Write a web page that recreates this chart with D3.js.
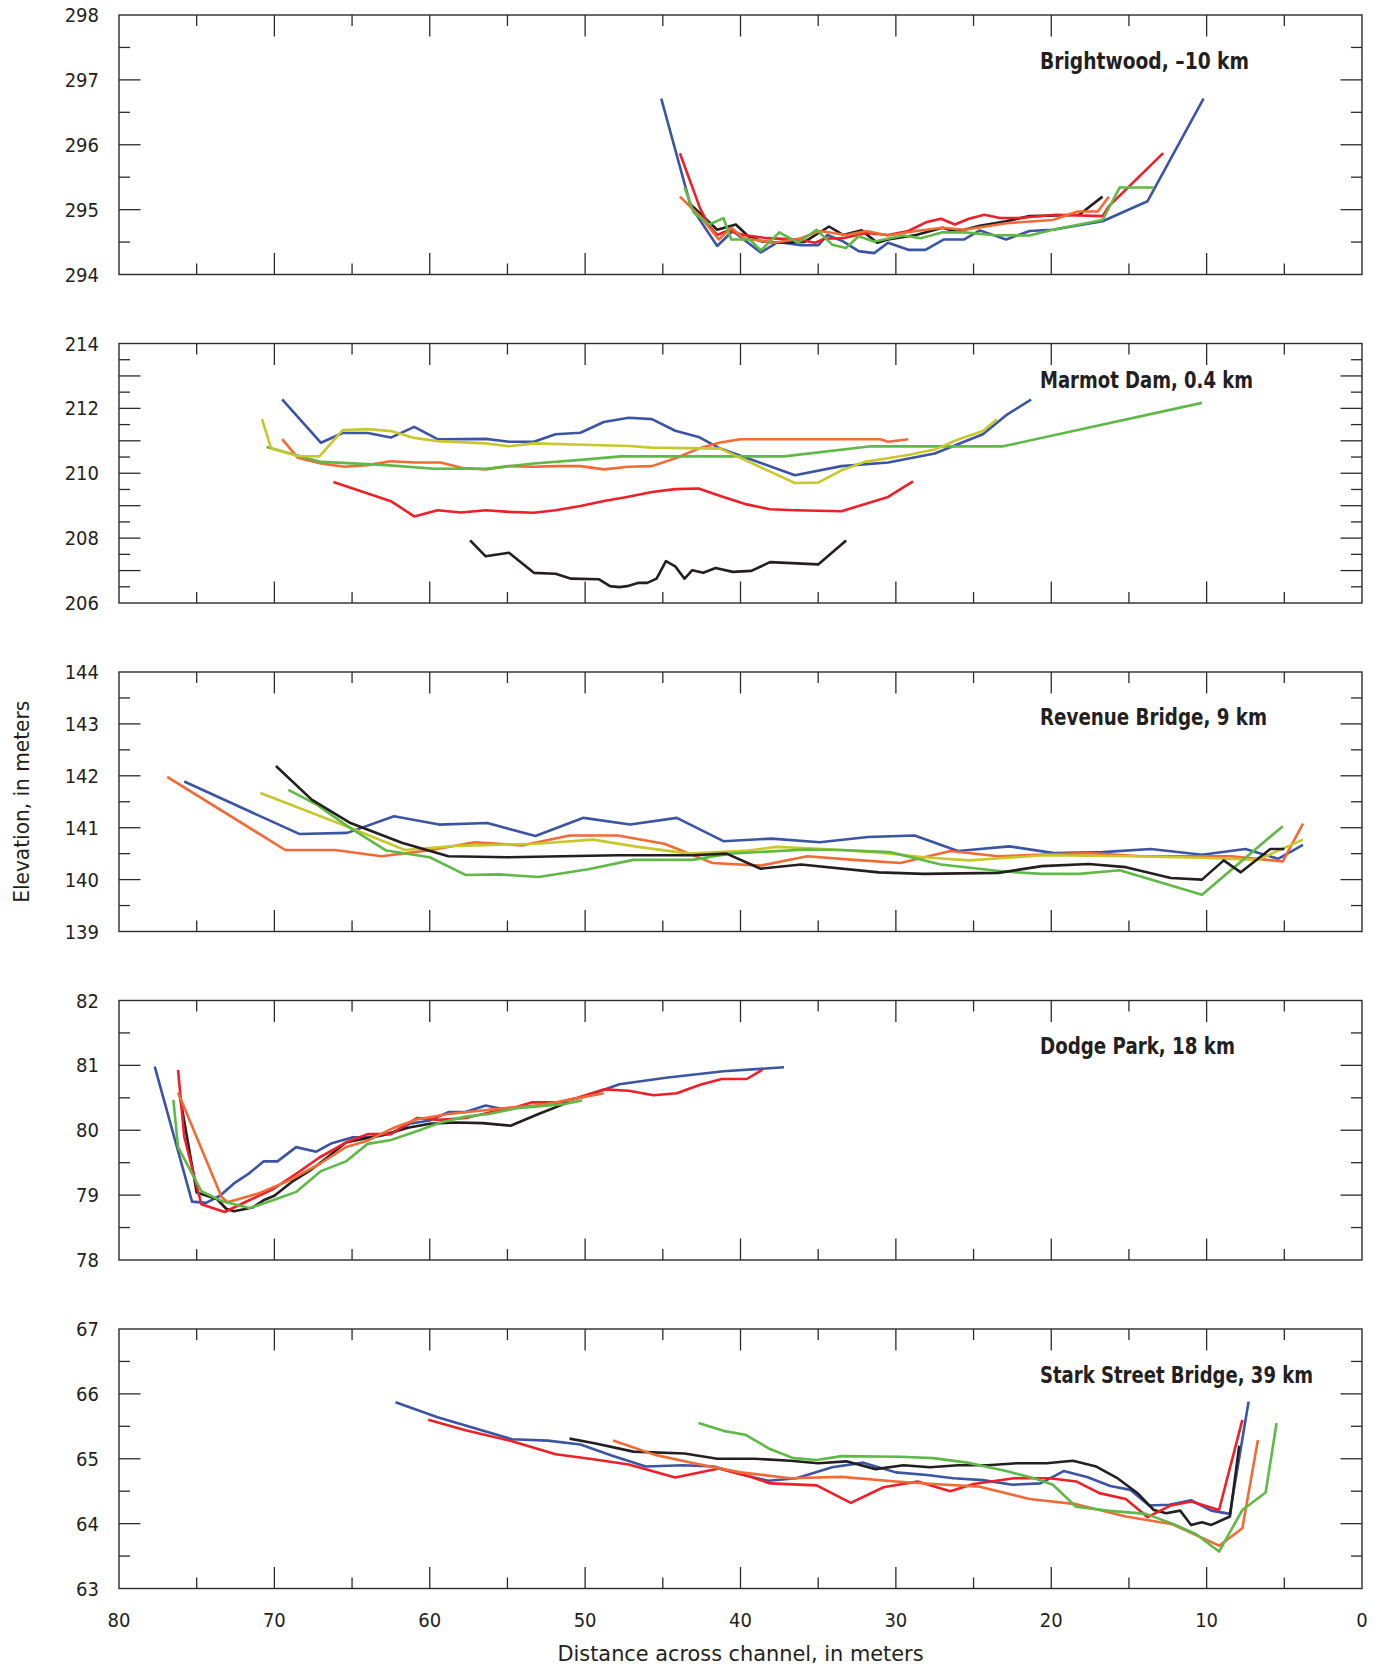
<!DOCTYPE html>
<html>
<head>
<meta charset="utf-8">
<script src="https://cdn.jsdelivr.net/npm/d3@7"></script>
<style>
  html, body { margin: 0; padding: 0; background: #fff; }
  svg { display: block; }
</style>
</head>
<body>
<svg id="chart" width="1382" height="1669"></svg>
<script>
// Cross-section profiles: [distance across channel (m), elevation (m)]

// ---- Brightwood, -10 km ----
const brightwoodBlue = [[45.1,296.71],[43.2,295.05],[41.5,294.44],[40.5,294.67],[38.7,294.34],[37.6,294.5],[36.1,294.45],[35.0,294.45],[34.4,294.61],[33.4,294.51],[32.4,294.36],[31.4,294.33],[30.5,294.49],[29.2,294.38],[28.1,294.38],[26.9,294.54],[25.6,294.54],[24.6,294.68],[22.9,294.54],[21.4,294.67],[19.9,294.69],[16.7,294.82],[13.8,295.13],[10.2,296.71]];
const brightwoodRed = [[43.9,295.87],[42.6,295.02],[42.0,294.74],[41.5,294.61],[40.8,294.68],[39.8,294.61],[38.3,294.56],[36.3,294.54],[35.2,294.49],[34.6,294.55],[33.4,294.56],[31.9,294.64],[30.5,294.61],[29.2,294.67],[28.0,294.81],[27.1,294.86],[26.2,294.77],[25.3,294.86],[24.3,294.92],[23.3,294.87],[22.1,294.87],[19.7,294.92],[16.7,294.9],[16.3,295.05],[12.8,295.87]];
const brightwoodBlack = [[43.3,295.1],[41.5,294.69],[40.3,294.77],[39.5,294.59],[38.6,294.51],[37.6,294.49],[35.9,294.5],[34.3,294.74],[33.4,294.61],[32.2,294.68],[31.2,294.49],[30.5,294.54],[28.7,294.61],[27.0,294.72],[26.1,294.66],[24.6,294.75],[22.9,294.82],[21.4,294.9],[19.7,294.91],[18.2,294.92],[16.7,295.2]];
const brightwoodOrange = [[43.9,295.2],[42.6,294.9],[41.4,294.54],[40.6,294.72],[39.8,294.56],[37.8,294.49],[36.1,294.56],[34.9,294.67],[33.2,294.61],[31.9,294.67],[30.5,294.6],[28.7,294.67],[27.0,294.72],[25.6,294.69],[22.9,294.79],[19.9,294.84],[18.3,294.97],[17.0,294.97],[16.3,295.2]];
const brightwoodGreen = [[43.6,295.34],[43.0,294.95],[42.0,294.77],[41.1,294.87],[40.6,294.54],[39.4,294.54],[38.7,294.37],[37.5,294.65],[36.3,294.49],[35.1,294.69],[34.1,294.46],[33.2,294.41],[32.4,294.59],[31.4,294.51],[29.5,294.6],[28.4,294.56],[27.0,294.65],[25.6,294.65],[23.8,294.61],[21.4,294.6],[19.9,294.69],[16.7,294.84],[15.6,295.34],[13.4,295.34]];

// ---- Marmot Dam, 0.4 km ----
const marmotBlue = [[69.5,212.28],[67.0,210.94],[65.6,211.24],[64.0,211.24],[62.5,211.1],[61.0,211.43],[59.5,211.05],[56.4,211.06],[54.9,210.97],[53.3,210.97],[51.9,211.2],[50.3,211.25],[48.8,211.58],[47.2,211.71],[45.7,211.67],[44.2,211.31],[42.7,211.12],[41.3,210.76],[36.5,209.94],[33.5,210.22],[30.5,210.33],[27.5,210.61],[24.4,211.2],[22.9,211.79],[21.3,212.27]];
const marmotRed = [[66.2,209.73],[62.5,209.14],[61.0,208.67],[59.5,208.86],[58.0,208.79],[56.4,208.86],[54.9,208.81],[53.3,208.78],[51.9,208.86],[50.3,208.99],[48.7,209.15],[47.3,209.27],[45.7,209.42],[44.2,209.51],[42.7,209.53],[41.3,209.3],[39.6,209.04],[38.1,208.89],[36.5,208.86],[33.5,208.83],[30.5,209.27],[28.9,209.75]];
const marmotBlack = [[57.4,207.93],[56.4,207.44],[54.9,207.55],[53.3,206.93],[51.9,206.9],[50.9,206.75],[49.1,206.73],[48.4,206.52],[47.8,206.49],[47.3,206.52],[46.6,206.62],[46.0,206.62],[45.4,206.75],[44.8,207.29],[44.2,207.13],[43.6,206.75],[43.1,207.01],[42.4,206.93],[41.6,207.08],[40.5,206.96],[39.3,206.99],[38.1,207.26],[35.0,207.19],[33.2,207.93]];
const marmotOrange = [[69.5,211.05],[68.5,210.48],[67.0,210.3],[65.5,210.2],[64.0,210.25],[62.5,210.37],[60.9,210.33],[59.3,210.33],[57.9,210.16],[56.4,210.12],[54.9,210.22],[53.3,210.2],[51.9,210.22],[50.3,210.22],[48.8,210.12],[47.2,210.2],[45.7,210.22],[44.1,210.48],[42.7,210.76],[41.3,210.95],[40.0,211.05],[31.0,211.05],[30.5,210.97],[29.2,211.05]];
const marmotGreen = [[70.5,210.81],[68.6,210.56],[67.0,210.35],[65.6,210.32],[62.8,210.25],[59.7,210.14],[56.4,210.14],[53.3,210.3],[50.1,210.42],[47.7,210.52],[43.3,210.52],[37.2,210.52],[31.6,210.83],[23.1,210.83],[10.3,212.17]];
const marmotYellow = [[70.8,211.67],[70.2,210.76],[68.5,210.53],[67.1,210.52],[65.6,211.33],[64.0,211.36],[62.5,211.3],[61.0,211.09],[59.5,210.99],[56.4,210.92],[54.9,210.83],[53.3,210.92],[50.1,210.88],[47.2,210.84],[45.7,210.79],[41.3,210.76],[36.5,209.7],[35.0,209.71],[33.5,210.09],[32.0,210.35],[29.2,210.56],[27.5,210.73],[26.0,211.04],[24.4,211.3],[23.5,211.66]];

// ---- Revenue Bridge, 9 km ----
const revenueBlue = [[75.8,141.89],[68.4,140.88],[65.3,140.9],[62.3,141.22],[59.4,141.06],[56.3,141.09],[53.2,140.84],[50.1,141.19],[47.1,141.06],[44.1,141.19],[41.1,140.74],[38.0,140.79],[34.9,140.72],[31.8,140.82],[28.8,140.85],[26.0,140.55],[22.7,140.64],[19.8,140.51],[16.7,140.53],[13.6,140.59],[10.3,140.48],[7.5,140.59],[5.4,140.4],[3.8,140.67]];
const revenueOrange = [[76.9,141.98],[69.3,140.57],[66.1,140.57],[63.1,140.45],[59.9,140.57],[57.1,140.72],[54.0,140.66],[51.0,140.85],[47.9,140.85],[44.9,140.69],[41.8,140.32],[38.7,140.27],[35.7,140.45],[32.7,140.38],[29.7,140.32],[26.5,140.55],[23.4,140.45],[17.6,140.51],[14.2,140.45],[8.4,140.45],[5.1,140.35],[3.8,141.08]];
const revenueBlack = [[69.9,142.19],[67.6,141.54],[65.1,141.09],[61.8,140.71],[58.8,140.45],[55.0,140.43],[47.9,140.47],[43.1,140.47],[40.9,140.5],[38.7,140.21],[36.1,140.29],[31.1,140.14],[28.2,140.11],[23.4,140.13],[20.6,140.26],[17.6,140.3],[15.2,140.24],[12.3,140.03],[10.3,140.0],[8.9,140.37],[7.8,140.14],[5.9,140.59],[5.0,140.59]];
const revenueYellow = [[70.9,141.67],[65.2,141.01],[61.6,140.57],[58.3,140.65],[53.2,140.69],[49.5,140.77],[46.6,140.63],[43.3,140.5],[39.5,140.56],[37.7,140.63],[34.6,140.59],[31.0,140.52],[28.2,140.43],[25.3,140.37],[20.4,140.47],[14.8,140.45],[10.3,140.42],[6.7,140.38],[3.8,140.77]];
const revenueGreen = [[69.1,141.73],[67.3,141.45],[65.2,141.01],[62.8,140.56],[60.0,140.43],[57.7,140.09],[55.5,140.1],[53.0,140.05],[49.8,140.2],[46.9,140.38],[43.1,140.38],[40.7,140.5],[35.7,140.58],[33.5,140.57],[30.4,140.53],[27.1,140.29],[23.2,140.16],[20.6,140.11],[18.2,140.11],[15.6,140.18],[13.1,139.96],[10.3,139.71],[5.1,141.03]];

// ---- Dodge Park, 18 km ----
const dodgeBlue = [[77.7,80.98],[75.3,78.9],[74.4,78.88],[73.5,78.99],[72.6,79.18],[71.6,79.34],[70.7,79.52],[69.8,79.52],[68.6,79.74],[67.3,79.67],[66.3,79.8],[65.0,79.89],[63.7,79.89],[62.5,79.95],[61.3,80.1],[60.0,80.15],[58.8,80.28],[57.7,80.28],[56.4,80.38],[55.4,80.33],[53.8,80.36],[52.5,80.39],[51.2,80.45],[50.0,80.52],[47.8,80.71],[44.8,80.81],[41.1,80.91],[37.2,80.97]];
const dodgeRed = [[76.2,80.93],[75.8,79.9],[74.7,78.86],[73.2,78.74],[71.9,78.89],[70.1,79.09],[68.6,79.33],[67.1,79.58],[65.4,79.81],[64.0,79.94],[62.5,79.94],[60.8,80.19],[59.4,80.16],[57.7,80.19],[56.0,80.28],[54.7,80.34],[53.4,80.43],[51.7,80.43],[50.5,80.5],[48.8,80.63],[47.2,80.61],[45.6,80.54],[44.1,80.57],[42.6,80.7],[41.2,80.79],[39.6,80.79],[38.6,80.93]];
const dodgeBlack = [[76.1,80.55],[75.0,79.04],[73.7,78.94],[73.1,78.79],[72.6,78.75],[71.4,78.81],[70.7,78.92],[70.0,78.99],[68.9,79.2],[67.7,79.38],[66.6,79.58],[65.4,79.81],[64.0,79.88],[62.8,79.94],[61.4,80.04],[60.0,80.1],[58.3,80.12],[56.6,80.11],[54.8,80.07],[53.0,80.25],[51.1,80.43]];
const dodgeOrange = [[76.2,80.58],[73.4,78.97],[73.0,78.89],[71.1,79.02],[69.1,79.22],[67.1,79.48],[65.4,79.74],[64.0,79.84],[62.3,80.04],[60.8,80.17],[58.8,80.25],[56.8,80.3],[54.8,80.35],[52.8,80.39],[50.8,80.48],[48.8,80.57]];
const dodgeGreen = [[76.5,80.47],[76.2,79.74],[74.7,79.06],[73.3,78.9],[71.6,78.8],[70.1,78.92],[68.6,79.05],[67.0,79.37],[65.4,79.52],[64.0,79.79],[62.5,79.85],[60.8,79.99],[59.3,80.12],[57.7,80.21],[56.2,80.25],[54.4,80.34],[52.5,80.38],[51.4,80.4],[50.2,80.46]];

// ---- Stark Street Bridge, 39 km ----
const starkBlue = [[62.2,65.87],[59.5,65.64],[54.7,65.3],[52.4,65.28],[50.3,65.22],[48.3,65.05],[46.1,64.88],[43.7,64.9],[41.7,64.88],[40.0,64.76],[38.2,64.66],[36.4,64.7],[34.1,64.87],[32.1,64.94],[30.0,64.79],[28.0,64.75],[26.3,64.7],[24.4,64.67],[22.5,64.6],[20.7,64.62],[19.2,64.81],[17.7,64.72],[16.2,64.58],[14.9,64.52],[13.7,64.28],[12.4,64.29],[11.0,64.36],[9.7,64.2],[8.5,64.15],[7.3,65.88]];
const starkRed = [[60.1,65.6],[57.7,65.44],[54.7,65.27],[51.9,65.07],[49.7,65.0],[47.2,64.91],[44.2,64.71],[41.4,64.85],[39.6,64.74],[38.1,64.62],[35.1,64.59],[32.9,64.32],[30.8,64.56],[28.6,64.65],[26.5,64.5],[25.0,64.61],[22.4,64.7],[20.1,64.7],[18.4,64.65],[16.9,64.47],[15.2,64.38],[13.8,64.1],[12.3,64.28],[11.0,64.34],[9.2,64.21],[7.7,65.6]];
const starkBlack = [[51.0,65.31],[49.4,65.24],[46.9,65.11],[43.6,65.08],[41.5,65.0],[39.1,65.0],[36.8,64.97],[35.0,64.93],[33.2,64.96],[31.3,64.84],[29.5,64.9],[27.8,64.87],[26.0,64.9],[24.1,64.9],[22.2,64.93],[20.3,64.93],[18.6,64.97],[17.1,64.88],[15.8,64.71],[14.4,64.46],[13.4,64.21],[12.6,64.16],[11.7,64.2],[11.0,63.98],[10.3,64.02],[9.7,63.98],[8.5,64.11],[7.9,65.2]];
const starkOrange = [[48.2,65.28],[45.5,65.06],[43.0,64.93],[40.0,64.79],[36.8,64.7],[33.5,64.72],[30.0,64.65],[27.6,64.61],[24.6,64.57],[21.4,64.38],[18.4,64.3],[15.2,64.11],[12.2,63.99],[9.2,63.66],[7.7,63.93],[6.7,65.29]];
const starkGreen = [[42.7,65.55],[41.1,65.43],[39.7,65.37],[38.1,65.15],[36.6,65.01],[35.1,64.98],[33.5,65.04],[29.7,65.03],[27.6,65.01],[25.4,64.94],[22.9,64.81],[21.1,64.7],[19.9,64.6],[18.4,64.26],[16.4,64.2],[13.9,64.15],[12.2,64.0],[10.7,63.84],[9.2,63.57],[7.7,64.21],[6.2,64.48],[5.5,65.55]];

// Panel titles, elevation ranges and labelled elevations
const panelTitles = ["Brightwood, \u201310 km", "Marmot Dam, 0.4 km", "Revenue Bridge, 9 km", "Dodge Park, 18 km", "Stark Street Bridge, 39 km"];
const elevationDomains = [[294, 298], [206, 214], [139, 144], [78, 82], [63, 67]];
const elevationTickLabels = [
  [294, 295, 296, 297, 298],
  [206, 208, 210, 212, 214],
  [139, 140, 141, 142, 143, 144],
  [78, 79, 80, 81, 82],
  [63, 64, 65, 66, 67]
];
const distanceTickLabels = [80, 70, 60, 50, 40, 30, 20, 10, 0];

const colors = {
  blue: "#3b54a4",
  red: "#ee1f26",
  black: "#231f20",
  orange: "#f26a36",
  green: "#5fb946",
  yellow: "#c8c82c"
};

const panelSeries = [
  [["blue", brightwoodBlue], ["black", brightwoodBlack], ["red", brightwoodRed], ["orange", brightwoodOrange], ["green", brightwoodGreen]],
  [["blue", marmotBlue], ["red", marmotRed], ["black", marmotBlack], ["orange", marmotOrange], ["green", marmotGreen], ["yellow", marmotYellow]],
  [["blue", revenueBlue], ["orange", revenueOrange], ["yellow", revenueYellow], ["green", revenueGreen], ["black", revenueBlack]],
  [["blue", dodgeBlue], ["black", dodgeBlack], ["red", dodgeRed], ["orange", dodgeOrange], ["green", dodgeGreen]],
  [["blue", starkBlue], ["black", starkBlack], ["red", starkRed], ["orange", starkOrange], ["green", starkGreen]]
];
const titleWidths = [209, 213, 227, 195, 273];
const titleOffsets = [54, 44, 53, 53, 54];

// ---- Layout ----
const svg = d3.select("#chart");
const left = 119, right = 1362;
const panelTops = [15, 343.5, 672, 1000.5, 1329];
const panelHeight = 259.5;
const axisColor = "#2b2b2b";
const fontStack = "'Liberation Sans Narrow', 'DejaVu Sans Condensed', 'Roboto Condensed', 'Arial Narrow', sans-serif";

const x = d3.scaleLinear().domain([80, 0]).range([left, right]);
const line = d3.line();

panelTitles.forEach((title, i) => {
  const top = panelTops[i], bottom = top + panelHeight;
  const y = d3.scaleLinear().domain(elevationDomains[i]).range([bottom, top]);
  const g = svg.append("g");

  // plotted profiles
  const plot = g.append("g");
  panelSeries[i].forEach(([c, pts]) => {
    plot.append("path")
      .attr("d", line(pts.map(d => [x(d[0]), y(d[1])])))
      .attr("fill", "none")
      .attr("stroke", colors[c])
      .attr("stroke-width", 2.6)
      .attr("stroke-linejoin", "round")
      .attr("stroke-linecap", "butt");
  });

  // inward ticks: y every 0.5 m (long on whole metres), x every 5 m (long every 10 m)
  const [y0, y1] = elevationDomains[i];
  const yTicks = d3.range(y0 * 2 + 1, y1 * 2).map(v => v / 2);
  const xTicks = d3.range(5, 80, 5);
  const ticks = g.append("g").attr("stroke", axisColor).attr("stroke-width", 1.3);
  yTicks.forEach(v => {
    const len = Number.isInteger(v) ? 21.5 : 11;
    ticks.append("line").attr("x1", left).attr("x2", left + len).attr("y1", y(v)).attr("y2", y(v));
    ticks.append("line").attr("x1", right).attr("x2", right - len).attr("y1", y(v)).attr("y2", y(v));
  });
  xTicks.forEach(v => {
    const len = v % 10 === 0 ? 21.5 : 11;
    ticks.append("line").attr("x1", x(v)).attr("x2", x(v)).attr("y1", top).attr("y2", top + len);
    ticks.append("line").attr("x1", x(v)).attr("x2", x(v)).attr("y1", bottom).attr("y2", bottom - len);
  });

  // frame
  g.append("rect")
    .attr("x", left).attr("y", top)
    .attr("width", right - left).attr("height", panelHeight)
    .attr("fill", "none").attr("stroke", axisColor).attr("stroke-width", 1.4);

  // elevation labels
  g.append("g").selectAll("text").data(elevationTickLabels[i]).join("text")
    .attr("x", left - 20).attr("y", d => y(d))
    .attr("dy", "0.35em")
    .attr("text-anchor", "end")
    .attr("font-family", fontStack)
    .attr("font-size", 20)
    .attr("fill", "#231f20")
    .text(d => d);

  // panel title
  g.append("text")
    .attr("x", 1040).attr("y", top + titleOffsets[i])
    .attr("font-family", fontStack)
    .attr("font-weight", "bold")
    .attr("font-size", 23)
    .attr("fill", "#231f20")
    .attr("textLength", titleWidths[i])
    .attr("lengthAdjust", "spacingAndGlyphs")
    .text(title);
});

// distance labels under the last panel
const lastBottom = panelTops[4] + panelHeight;
svg.append("g").selectAll("text").data(distanceTickLabels).join("text")
  .attr("x", d => x(d)).attr("y", lastBottom + 31)
  .attr("dy", "0.35em")
  .attr("text-anchor", "middle")
  .attr("font-family", fontStack)
  .attr("font-size", 20)
  .attr("fill", "#231f20")
  .text(d => d);

// axis titles
svg.append("text")
  .attr("x", (left + right) / 2).attr("y", 1661)
  .attr("text-anchor", "middle")
  .attr("font-family", fontStack)
  .attr("font-size", 22)
  .attr("fill", "#231f20")
  .attr("textLength", 366)
  .attr("lengthAdjust", "spacingAndGlyphs")
  .text("Distance across channel, in meters");

svg.append("text")
  .attr("transform", `translate(29, ${(panelTops[0] + lastBottom) / 2}) rotate(-90)`)
  .attr("text-anchor", "middle")
  .attr("font-family", fontStack)
  .attr("font-size", 22)
  .attr("fill", "#231f20")
  .attr("textLength", 202)
  .attr("lengthAdjust", "spacingAndGlyphs")
  .text("Elevation, in meters");
</script>
</body>
</html>
